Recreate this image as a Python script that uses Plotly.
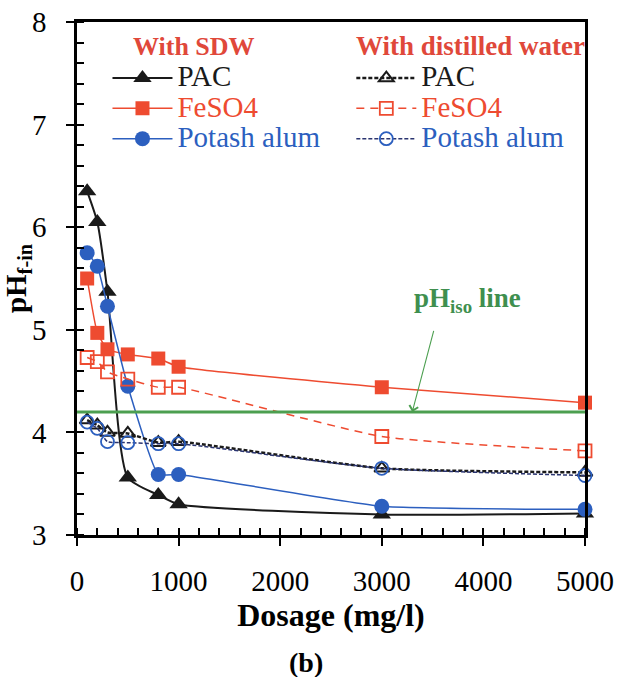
import plotly.graph_objects as go

dosage = [100, 200, 300, 500, 800, 1000, 3000, 5000]
pac_sdw = [6.35, 6.05, 5.37, 3.56, 3.39, 3.30, 3.20, 3.21]
feso4_sdw = [5.50, 4.97, 4.81, 4.76, 4.72, 4.64, 4.44, 4.29]
alum_sdw = [5.75, 5.62, 5.23, 4.45, 3.59, 3.59, 3.28, 3.25]
pac_dw = [4.12, 4.07, 4.00, 3.99, 3.90, 3.91, 3.65, 3.61]
feso4_dw = [4.73, 4.69, 4.59, 4.52, 4.44, 4.44, 3.96, 3.82]
alum_dw = [4.10, 4.04, 3.91, 3.90, 3.89, 3.89, 3.65, 3.58]
ph_iso = 4.2
arrow_x = 3300

x_ticks = [0, 1000, 2000, 3000, 4000, 5000]
y_ticks = [3, 4, 5, 6, 7, 8]

SERIF = "Liberation Serif"
BLACK = "#1a1a1a"
RED = "#ee4b30"
BLUE = "#2c5fbf"
NAVY = "#2a3470"
GREEN = "#4c9f50"
HEAD = "#e0483a"


def nm(text, color):
    return f'<span style="font-size:29px;color:{color}">{text}</span>'


fig = go.Figure()

# SDW (solid, filled)
fig.add_trace(go.Scatter(x=dosage, y=pac_sdw, name=nm("PAC", BLACK), legend="legend",
                         mode="lines+markers", line=dict(color=BLACK, width=2, shape="spline", smoothing=0.6),
                         marker=dict(symbol="triangle-up", size=16, color=BLACK), cliponaxis=False))
fig.add_trace(go.Scatter(x=dosage, y=feso4_sdw, name=nm("FeSO4", RED), legend="legend",
                         mode="lines+markers", line=dict(color=RED, width=1.5, shape="spline", smoothing=0.4),
                         marker=dict(symbol="square", size=14, color=RED), cliponaxis=False))
fig.add_trace(go.Scatter(x=dosage, y=alum_sdw, name=nm("Potash alum", BLUE), legend="legend",
                         mode="lines+markers", line=dict(color=BLUE, width=1.5, shape="spline", smoothing=0.4),
                         marker=dict(symbol="circle", size=15, color=BLUE), cliponaxis=False))

# Distilled water (dashed, open)
fig.add_trace(go.Scatter(x=dosage, y=pac_dw, name=nm("PAC", BLACK), legend="legend2",
                         mode="lines+markers", line=dict(color=BLACK, width=2.5, dash="4px,2px", shape="spline", smoothing=0.5),
                         marker=dict(symbol="triangle-up-open", size=13, color=BLACK, line=dict(width=2)),
                         cliponaxis=False))
fig.add_trace(go.Scatter(x=dosage, y=feso4_dw, name=nm("FeSO4", RED), legend="legend2",
                         mode="lines+markers", line=dict(color=RED, width=1.5, dash="8px,6px", shape="spline", smoothing=0.5),
                         marker=dict(symbol="square-open", size=13, color=RED, line=dict(width=1.8)),
                         cliponaxis=False))
fig.add_trace(go.Scatter(x=dosage, y=alum_dw, name=nm("Potash alum", BLUE), legend="legend2",
                         mode="lines+markers", line=dict(color=NAVY, width=1.5, dash="4px,2px", shape="spline", smoothing=0.5),
                         marker=dict(symbol="circle-open", size=13, color=BLUE, line=dict(width=1.8)),
                         cliponaxis=False))

# pH iso line
fig.add_shape(type="line", xref="paper", x0=0, x1=1, yref="y", y0=ph_iso, y1=ph_iso,
              line=dict(color=GREEN, width=3), layer="above")

fig.add_annotation(x=arrow_x, y=ph_iso, xref="x", yref="y", text=" ", showarrow=True,
                   ax=23, ay=-87, arrowhead=4, arrowsize=1.6, arrowwidth=1.1, arrowcolor=GREEN,
                   font=dict(size=8))
fig.add_annotation(x=0.769, y=0.458, xref="paper", yref="paper", xanchor="center", yanchor="middle",
                   showarrow=False,
                   text="<b>pH<sub>iso</sub> line</b>", font=dict(family=SERIF, size=27, color="#3f8f4f"))
fig.add_annotation(x=0.45, y=-0.248, xref="paper", yref="paper", xanchor="center", yanchor="middle",
                   showarrow=False,
                   text="<b>(b)</b>", font=dict(family=SERIF, size=28, color="black"))

# legend headers
fig.add_annotation(x=0.230, y=0.953, xref="paper", yref="paper", xanchor="center", yanchor="middle",
                   showarrow=False, text="<b>With SDW</b>",
                   font=dict(family=SERIF, size=26, color=HEAD))
fig.add_annotation(x=0.774, y=0.953, xref="paper", yref="paper", xanchor="center", yanchor="middle",
                   showarrow=False, text="<b>With distilled water</b>",
                   font=dict(family=SERIF, size=27, color=HEAD))

axis_common = dict(
    showline=True, linecolor="black", linewidth=2.5, mirror=True,
    ticks="outside", ticklen=8, tickwidth=2, tickcolor="black",
    showgrid=False, zeroline=False, automargin=False,
    tickfont=dict(family=SERIF, size=29, color="black"),
)

fig.update_xaxes(range=[0, 5000], tickvals=x_ticks, ticktext=[str(v) for v in x_ticks],
                 minor=dict(dtick=200, ticks="inside", ticklen=7, tickwidth=1.5, tickcolor="black"),
                 ticklabelstandoff=10,
                 title=dict(text="<b>Dosage (mg/l)</b>", font=dict(family=SERIF, size=32, color="black"), standoff=2),
                 **axis_common)
fig.update_yaxes(range=[3, 8], tickvals=y_ticks, ticktext=[str(v) for v in y_ticks],
                 minor=dict(dtick=0.2, ticks="inside", ticklen=7, tickwidth=1.5, tickcolor="black"),
                 ticklabelstandoff=14,
                 title=dict(text="<b>pH<sub>f-in</sub></b>", font=dict(family=SERIF, size=29, color="black"), standoff=0),
                 **axis_common)

fig.update_layout(
    width=621, height=677,
    margin=dict(l=77, r=36, t=22, b=142),
    paper_bgcolor="white", plot_bgcolor="white",
    font=dict(family=SERIF, color="black"),
    showlegend=True,
    legend=dict(x=0.06, y=0.93, xanchor="left", yanchor="top", bgcolor="rgba(0,0,0,0)",
                font=dict(family=SERIF, size=21), itemwidth=60, tracegroupgap=0),
    legend2=dict(x=0.54, y=0.93, xanchor="left", yanchor="top", bgcolor="rgba(0,0,0,0)",
                 font=dict(family=SERIF, size=21), itemwidth=60, tracegroupgap=0),
)

fig.write_html("out.html")
